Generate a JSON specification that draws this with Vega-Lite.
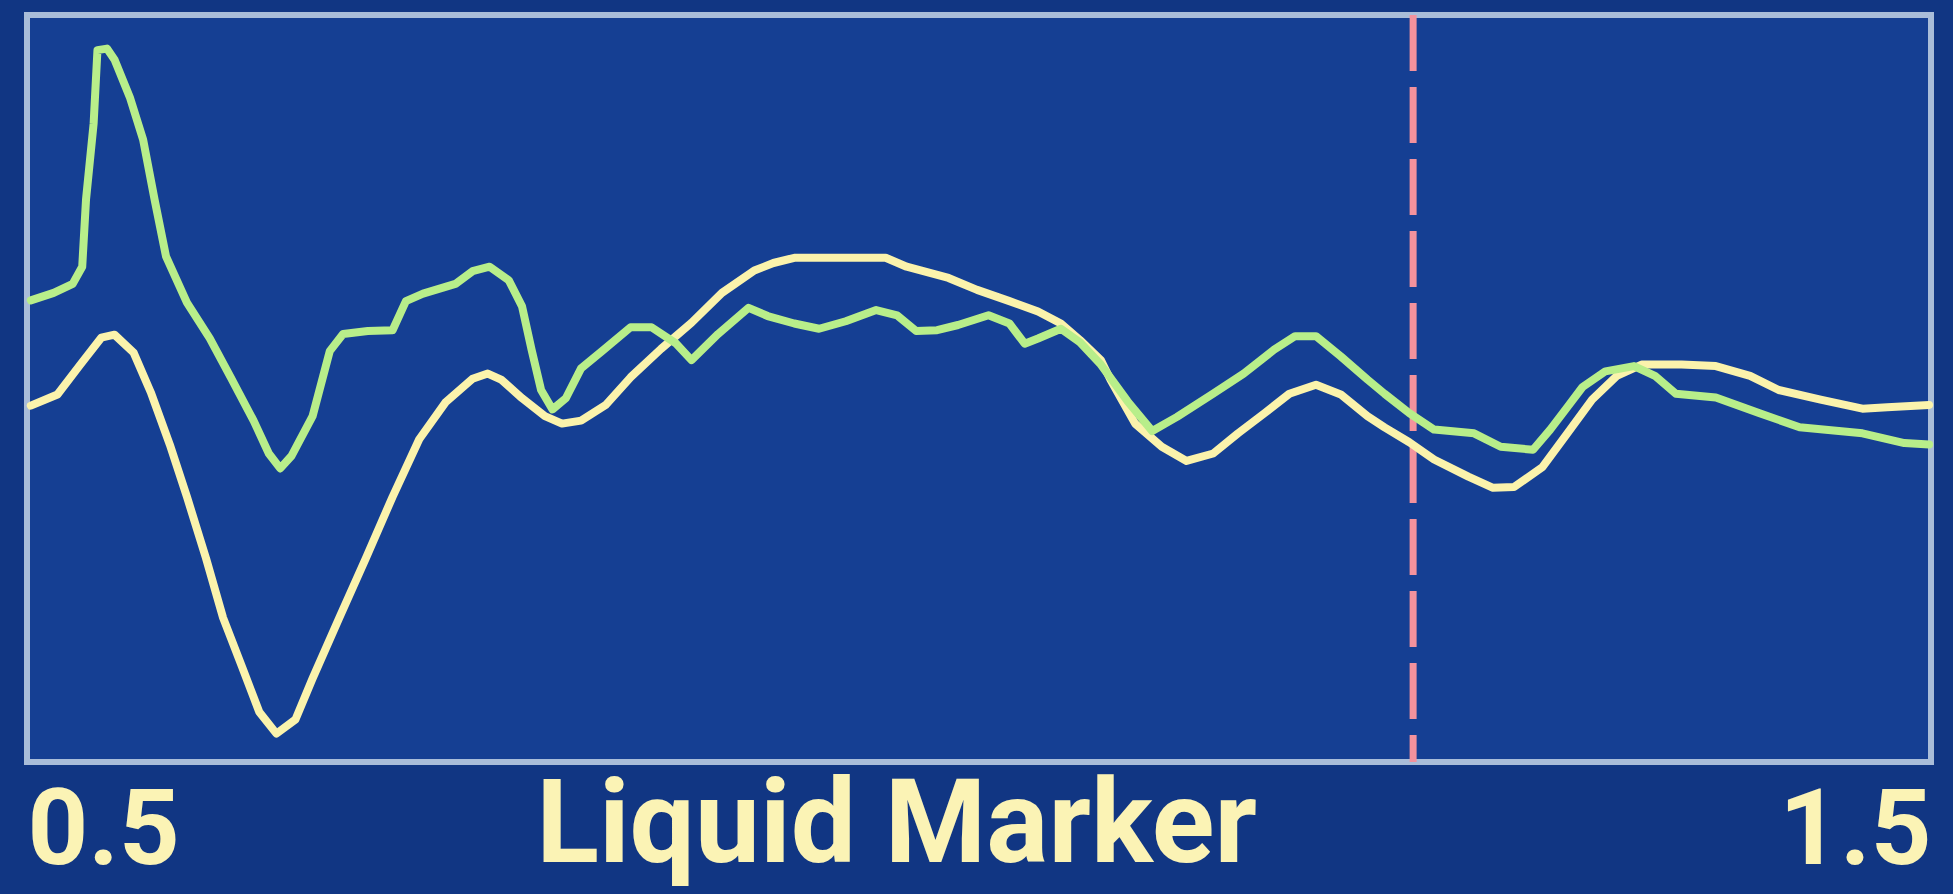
{
  "$schema": "https://vega.github.io/schema/vega-lite/v6.json",
  "width": 1904,
  "height": 747,
  "autosize": "none",
  "padding": {"left": 27, "top": 15, "right": 22, "bottom": 132},
  "background": "#113683",
  "config": {"view": {"fill": "#153F93", "stroke": "#A9BDD9", "strokeWidth": 6}},
  "datasets": {
    "marker": [{"x": 1.228}],
    "traces": [
      {"series": "yellow", "x": 0.502, "y": 47.7},
      {"series": "yellow", "x": 0.516, "y": 49.2},
      {"series": "yellow", "x": 0.528, "y": 53.2},
      {"series": "yellow", "x": 0.539, "y": 56.8},
      {"series": "yellow", "x": 0.546, "y": 57.2},
      {"series": "yellow", "x": 0.556, "y": 54.8},
      {"series": "yellow", "x": 0.565, "y": 49.5},
      {"series": "yellow", "x": 0.575, "y": 42.5},
      {"series": "yellow", "x": 0.584, "y": 35.5},
      {"series": "yellow", "x": 0.594, "y": 27.3},
      {"series": "yellow", "x": 0.603, "y": 19.3},
      {"series": "yellow", "x": 0.613, "y": 12.7},
      {"series": "yellow", "x": 0.622, "y": 6.7},
      {"series": "yellow", "x": 0.631, "y": 3.8},
      {"series": "yellow", "x": 0.641, "y": 5.7},
      {"series": "yellow", "x": 0.650, "y": 11.2},
      {"series": "yellow", "x": 0.664, "y": 19.3},
      {"series": "yellow", "x": 0.678, "y": 27.3},
      {"series": "yellow", "x": 0.692, "y": 35.5},
      {"series": "yellow", "x": 0.706, "y": 43.2},
      {"series": "yellow", "x": 0.720, "y": 48.2},
      {"series": "yellow", "x": 0.734, "y": 51.3},
      {"series": "yellow", "x": 0.742, "y": 52.0},
      {"series": "yellow", "x": 0.749, "y": 51.2},
      {"series": "yellow", "x": 0.760, "y": 48.7},
      {"series": "yellow", "x": 0.772, "y": 46.3},
      {"series": "yellow", "x": 0.781, "y": 45.3},
      {"series": "yellow", "x": 0.791, "y": 45.7},
      {"series": "yellow", "x": 0.804, "y": 47.8},
      {"series": "yellow", "x": 0.817, "y": 51.5},
      {"series": "yellow", "x": 0.833, "y": 55.3},
      {"series": "yellow", "x": 0.849, "y": 58.8},
      {"series": "yellow", "x": 0.865, "y": 62.8},
      {"series": "yellow", "x": 0.882, "y": 65.8},
      {"series": "yellow", "x": 0.892, "y": 66.8},
      {"series": "yellow", "x": 0.903, "y": 67.5},
      {"series": "yellow", "x": 0.927, "y": 67.5},
      {"series": "yellow", "x": 0.951, "y": 67.5},
      {"series": "yellow", "x": 0.962, "y": 66.3},
      {"series": "yellow", "x": 0.984, "y": 64.8},
      {"series": "yellow", "x": 0.999, "y": 63.2},
      {"series": "yellow", "x": 1.016, "y": 61.7},
      {"series": "yellow", "x": 1.031, "y": 60.3},
      {"series": "yellow", "x": 1.043, "y": 58.7},
      {"series": "yellow", "x": 1.053, "y": 56.5},
      {"series": "yellow", "x": 1.064, "y": 53.8},
      {"series": "yellow", "x": 1.069, "y": 51.2},
      {"series": "yellow", "x": 1.082, "y": 45.3},
      {"series": "yellow", "x": 1.096, "y": 42.2},
      {"series": "yellow", "x": 1.109, "y": 40.3},
      {"series": "yellow", "x": 1.123, "y": 41.3},
      {"series": "yellow", "x": 1.136, "y": 44.0},
      {"series": "yellow", "x": 1.150, "y": 46.7},
      {"series": "yellow", "x": 1.163, "y": 49.3},
      {"series": "yellow", "x": 1.177, "y": 50.5},
      {"series": "yellow", "x": 1.190, "y": 49.2},
      {"series": "yellow", "x": 1.204, "y": 46.3},
      {"series": "yellow", "x": 1.213, "y": 44.8},
      {"series": "yellow", "x": 1.226, "y": 42.8},
      {"series": "yellow", "x": 1.239, "y": 40.5},
      {"series": "yellow", "x": 1.257, "y": 38.2},
      {"series": "yellow", "x": 1.270, "y": 36.7},
      {"series": "yellow", "x": 1.281, "y": 36.8},
      {"series": "yellow", "x": 1.296, "y": 39.5},
      {"series": "yellow", "x": 1.309, "y": 44.0},
      {"series": "yellow", "x": 1.322, "y": 48.5},
      {"series": "yellow", "x": 1.335, "y": 51.7},
      {"series": "yellow", "x": 1.348, "y": 53.2},
      {"series": "yellow", "x": 1.369, "y": 53.2},
      {"series": "yellow", "x": 1.387, "y": 53.0},
      {"series": "yellow", "x": 1.405, "y": 51.7},
      {"series": "yellow", "x": 1.420, "y": 49.8},
      {"series": "yellow", "x": 1.442, "y": 48.5},
      {"series": "yellow", "x": 1.464, "y": 47.3},
      {"series": "yellow", "x": 1.477, "y": 47.5},
      {"series": "yellow", "x": 1.499, "y": 47.8},
      {"series": "green", "x": 0.502, "y": 61.8},
      {"series": "green", "x": 0.514, "y": 62.8},
      {"series": "green", "x": 0.524, "y": 64.0},
      {"series": "green", "x": 0.529, "y": 66.3},
      {"series": "green", "x": 0.531, "y": 75.3},
      {"series": "green", "x": 0.535, "y": 85.5},
      {"series": "green", "x": 0.537, "y": 95.3},
      {"series": "green", "x": 0.542, "y": 95.5},
      {"series": "green", "x": 0.546, "y": 94.0},
      {"series": "green", "x": 0.554, "y": 89.0},
      {"series": "green", "x": 0.561, "y": 83.3},
      {"series": "green", "x": 0.567, "y": 75.3},
      {"series": "green", "x": 0.573, "y": 67.7},
      {"series": "green", "x": 0.584, "y": 61.5},
      {"series": "green", "x": 0.596, "y": 56.7},
      {"series": "green", "x": 0.607, "y": 51.5},
      {"series": "green", "x": 0.619, "y": 45.7},
      {"series": "green", "x": 0.627, "y": 41.3},
      {"series": "green", "x": 0.633, "y": 39.3},
      {"series": "green", "x": 0.639, "y": 41.0},
      {"series": "green", "x": 0.650, "y": 46.3},
      {"series": "green", "x": 0.659, "y": 55.0},
      {"series": "green", "x": 0.666, "y": 57.3},
      {"series": "green", "x": 0.679, "y": 57.7},
      {"series": "green", "x": 0.692, "y": 57.8},
      {"series": "green", "x": 0.699, "y": 61.7},
      {"series": "green", "x": 0.708, "y": 62.7},
      {"series": "green", "x": 0.725, "y": 64.0},
      {"series": "green", "x": 0.734, "y": 65.7},
      {"series": "green", "x": 0.743, "y": 66.3},
      {"series": "green", "x": 0.753, "y": 64.5},
      {"series": "green", "x": 0.760, "y": 61.0},
      {"series": "green", "x": 0.765, "y": 55.2},
      {"series": "green", "x": 0.770, "y": 49.8},
      {"series": "green", "x": 0.776, "y": 47.2},
      {"series": "green", "x": 0.783, "y": 48.7},
      {"series": "green", "x": 0.791, "y": 52.7},
      {"series": "green", "x": 0.802, "y": 55.0},
      {"series": "green", "x": 0.817, "y": 58.2},
      {"series": "green", "x": 0.828, "y": 58.2},
      {"series": "green", "x": 0.841, "y": 56.0},
      {"series": "green", "x": 0.849, "y": 53.8},
      {"series": "green", "x": 0.863, "y": 57.3},
      {"series": "green", "x": 0.879, "y": 60.8},
      {"series": "green", "x": 0.889, "y": 59.7},
      {"series": "green", "x": 0.903, "y": 58.7},
      {"series": "green", "x": 0.916, "y": 58.0},
      {"series": "green", "x": 0.930, "y": 59.0},
      {"series": "green", "x": 0.946, "y": 60.5},
      {"series": "green", "x": 0.957, "y": 59.8},
      {"series": "green", "x": 0.967, "y": 57.7},
      {"series": "green", "x": 0.978, "y": 57.8},
      {"series": "green", "x": 0.989, "y": 58.5},
      {"series": "green", "x": 1.005, "y": 59.8},
      {"series": "green", "x": 1.016, "y": 58.7},
      {"series": "green", "x": 1.024, "y": 56.0},
      {"series": "green", "x": 1.031, "y": 56.7},
      {"series": "green", "x": 1.043, "y": 58.0},
      {"series": "green", "x": 1.053, "y": 56.2},
      {"series": "green", "x": 1.064, "y": 53.2},
      {"series": "green", "x": 1.078, "y": 48.3},
      {"series": "green", "x": 1.091, "y": 44.3},
      {"series": "green", "x": 1.104, "y": 46.2},
      {"series": "green", "x": 1.123, "y": 49.3},
      {"series": "green", "x": 1.139, "y": 52.0},
      {"series": "green", "x": 1.155, "y": 55.2},
      {"series": "green", "x": 1.166, "y": 57.0},
      {"series": "green", "x": 1.177, "y": 57.0},
      {"series": "green", "x": 1.190, "y": 54.3},
      {"series": "green", "x": 1.204, "y": 51.2},
      {"series": "green", "x": 1.213, "y": 49.3},
      {"series": "green", "x": 1.226, "y": 46.7},
      {"series": "green", "x": 1.239, "y": 44.5},
      {"series": "green", "x": 1.260, "y": 44.0},
      {"series": "green", "x": 1.274, "y": 42.2},
      {"series": "green", "x": 1.291, "y": 41.8},
      {"series": "green", "x": 1.300, "y": 44.5},
      {"series": "green", "x": 1.309, "y": 47.5},
      {"series": "green", "x": 1.317, "y": 50.2},
      {"series": "green", "x": 1.329, "y": 52.3},
      {"series": "green", "x": 1.344, "y": 53.0},
      {"series": "green", "x": 1.355, "y": 51.7},
      {"series": "green", "x": 1.366, "y": 49.3},
      {"series": "green", "x": 1.387, "y": 48.8},
      {"series": "green", "x": 1.410, "y": 46.7},
      {"series": "green", "x": 1.431, "y": 44.8},
      {"series": "green", "x": 1.464, "y": 44.0},
      {"series": "green", "x": 1.486, "y": 42.7},
      {"series": "green", "x": 1.499, "y": 42.5}
    ]
  },
  "layer": [
    {
      "data": {"name": "marker"},
      "mark": {"type": "rule", "color": "#F3929D", "strokeWidth": 7, "strokeDash": [56, 16]},
      "encoding": {
        "x": {
          "field": "x", "type": "quantitative",
          "scale": {"domain": [0.5, 1.5], "nice": false, "zero": false},
          "axis": {
            "values": [0.5, 1.5], "format": ".1f", "labelFlush": true, "labelOverlap": false, "labelLimit": 0,
            "labelFont": "Roboto", "labelFontWeight": "bold",
            "labelFontSize": 106, "labelColor": "#FBF3B5", "labelBaseline": "alphabetic", "labelPadding": 101,
            "ticks": false, "domain": false, "grid": false,
            "title": "Liquid Marker", "titleLimit": 0,
            "titleFont": "Roboto", "titleFontWeight": "bold",
            "titleFontSize": 116, "titleColor": "#FBF3B5", "titleX": 869, "titleY": 99,
            "titleBaseline": "alphabetic", "titleAlign": "center", "titleAngle": 0
          }
        }
      }
    },
    {
      "data": {"name": "traces"},
      "mark": {"type": "line", "strokeWidth": 8, "strokeJoin": "round", "strokeCap": "round"},
      "encoding": {
        "x": {"field": "x", "type": "quantitative", "scale": {"domain": [0.5, 1.5], "nice": false, "zero": false}, "title": "Liquid Marker"},
        "y": {"field": "y", "type": "quantitative", "scale": {"domain": [0, 100], "nice": false}, "axis": null},
        "color": {
          "field": "series", "type": "nominal",
          "scale": {"domain": ["green", "yellow"], "range": ["#B8EE8A", "#FBF3AC"]},
          "legend": null
        }
      }
    }
  ]
}
